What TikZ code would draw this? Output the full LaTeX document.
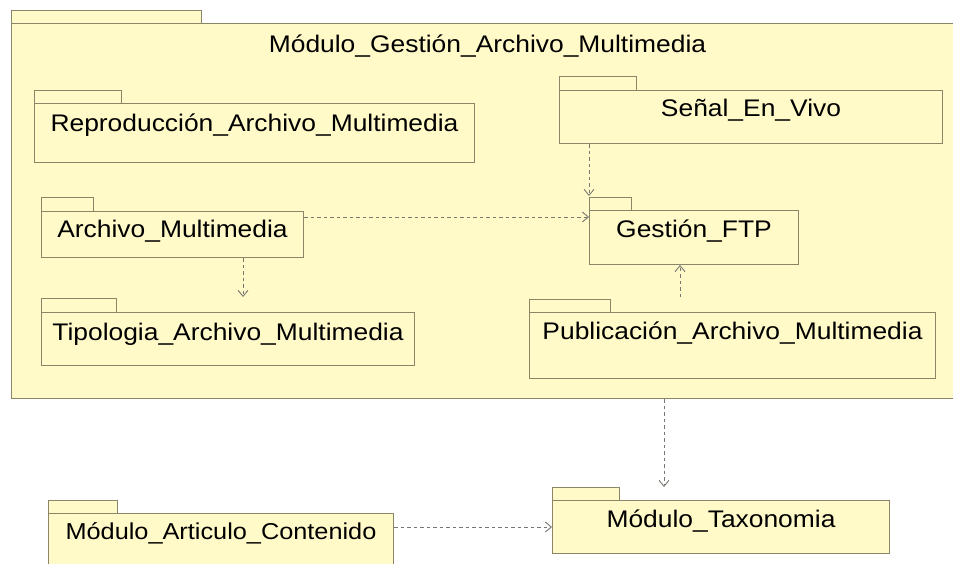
\documentclass[tikz,border=0pt]{standalone}
\usepackage{fontspec}
\setmainfont{Liberation Sans}[FakeStretch=1.1]
\usetikzlibrary{arrows.meta}
\definecolor{pkgfill}{RGB}{255,250,200}
\definecolor{pkgline}{RGB}{138,134,104}
\definecolor{depline}{RGB}{120,120,112}
\tikzset{
  pkg/.style={draw=pkgline, fill=pkgfill, line width=1pt, rectangle,
    anchor=north west, inner sep=0pt, align=center,
    font=\fontsize{24}{28}\selectfont},
  pkgtab/.style={draw=pkgline, fill=pkgfill, line width=1pt},
  dep/.style={draw=depline, line width=0.9pt, dash pattern=on 3.5pt off 3pt,
    -{Straight Barb[length=6pt,width=10pt,line width=0.9pt]}}
}
\begin{document}
\begin{tikzpicture}[x=1pt,y=-1pt]
\useasboundingbox (0,0) rectangle (953,563);
\clip (0,0) rectangle (953,563);
\fill[white] (0,0) rectangle (953,563);

% enclosing package
\node[pkg, minimum width=952pt, text height=28.6pt, text depth=346.4pt] (outer) at (11,23) {Módulo\_Gestión\_Archivo\_Multimedia};
\draw[pkgtab] (outer.north west) rectangle ++(190,-13);

% inner packages
\node[pkg, minimum width=440pt, text height=27.6pt, text depth=31.4pt] (repro) at (34,103) {Reproducción\_Archivo\_Multimedia};
\draw[pkgtab] (repro.north west) rectangle ++(87,-13);

\node[pkg, minimum width=383pt, text height=25.6pt, text depth=27.4pt] (senal) at (559,90) {Señal\_En\_Vivo};
\draw[pkgtab] (senal.north west) rectangle ++(77,-14);

\node[pkg, minimum width=209pt, text height=26.6pt, text depth=27.4pt] (ftp) at (589,210) {Gestión\_FTP};
\draw[pkgtab] (ftp.north west) rectangle ++(42,-13);

\node[pkg, minimum width=262pt, text height=25.6pt, text depth=20.4pt] (archivo) at (41,211) {Archivo\_Multimedia};
\draw[pkgtab] (archivo.north west) rectangle ++(52,-14);

\node[pkg, minimum width=373pt, text height=27.6pt, text depth=25.4pt] (tipo) at (41,312) {Tipologia\_Archivo\_Multimedia};
\draw[pkgtab] (tipo.north west) rectangle ++(75,-14);

\node[pkg, minimum width=406pt, text height=26.6pt, text depth=39.4pt] (pub) at (529,312) {Publicación\_Archivo\_Multimedia};
\draw[pkgtab] (pub.north west) rectangle ++(81,-13);

% packages outside the module
\node[pkg, minimum width=337pt, text height=26.6pt, text depth=26.4pt] (taxo) at (552,500) {Módulo\_Taxonomia};
\draw[pkgtab] (taxo.north west) rectangle ++(67,-13);

\node[pkg, font=\fontsize{23}{27}\selectfont, minimum width=345pt, text height=26.2pt, text depth=53.8pt] (art) at (48,513) {Módulo\_Articulo\_Contenido};
\draw[pkgtab] (art.north west) rectangle ++(69,-13);

% dependencies
\draw[dep] (senal.south west |- senal.south) ++(30,0) -- ([yshift=14pt]ftp.north west);
\draw[dep] ([yshift=-6pt]archivo.north east) -- ([yshift=-7pt]ftp.north west);
\draw[dep] ([xshift=202pt]archivo.south west) -- ([xshift=202pt,yshift=15pt]tipo.north west);
\draw[dep] ([xshift=151pt,yshift=15pt]pub.north west) -- ([xshift=91pt]ftp.south west);
\draw[dep] ([xshift=653pt]outer.south west) -- ([xshift=112pt,yshift=13pt]taxo.north west);
\draw[dep] ([yshift=-14pt]art.north east) -- ([yshift=-27pt]taxo.north west);
\end{tikzpicture}
\end{document}
